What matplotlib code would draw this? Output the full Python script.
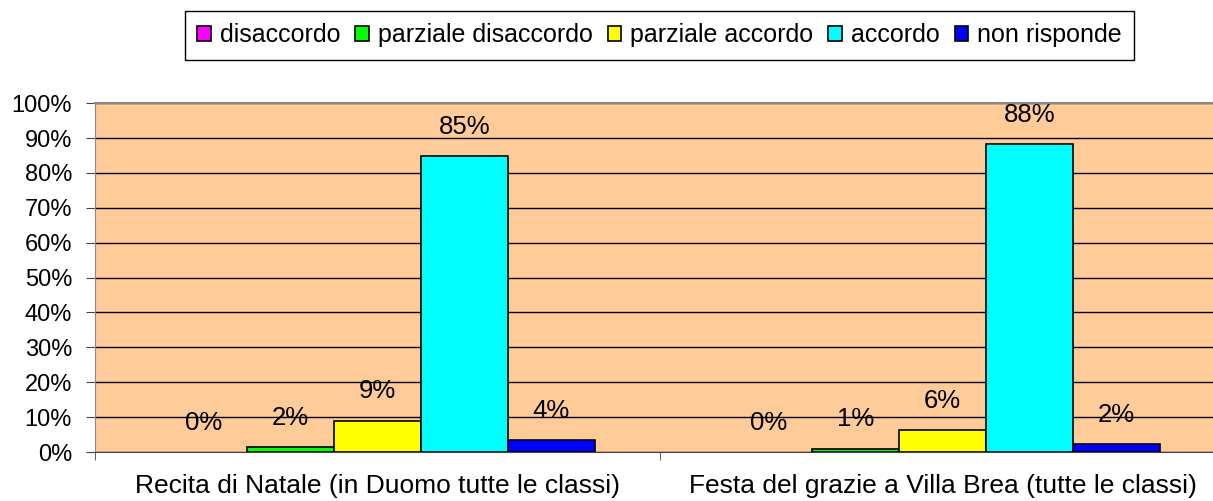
import matplotlib.pyplot as plt
import numpy as np

plt.rcParams['font.family'] = ['Liberation Sans', 'DejaVu Sans']

# dati
categorie = ['Recita di Natale (in Duomo tutte le classi)',
             'Festa del grazie a Villa Brea (tutte le classi)']
serie = ['disaccordo', 'parziale disaccordo', 'parziale accordo', 'accordo', 'non risponde']
colori = ['#FF00FF', '#00FF00', '#FFFF00', '#00FFFF', '#0000FF']
valori = [
    [0.0, 0.0],     # disaccordo
    [0.015, 0.01],  # parziale disaccordo
    [0.09, 0.062],  # parziale accordo
    [0.848, 0.883], # accordo
    [0.033, 0.023], # non risponde
]
etichette = [
    ['0%', '0%'],
    ['2%', '1%'],
    ['9%', '6%'],
    ['85%', '88%'],
    ['4%', '2%'],
]

fig = plt.figure(figsize=(12.13, 5.01), dpi=100)
ax = fig.add_axes([0.0783, 0.0978, 0.9316, 0.6962])
ax.set_facecolor('#FFCC99')

x = np.arange(len(categorie))
w = 1 / 6.5
for i, (nome, col, vals, lab) in enumerate(zip(serie, colori, valori, etichette)):
    pos = x + (i - 2) * w
    lw = [1.2 if v > 0 else 0 for v in vals]
    ax.bar(pos, vals, width=w, color=col, edgecolor='black', linewidth=lw,
           label=nome, zorder=3)
    for p, v, t in zip(pos, vals, lab):
        ax.annotate(t, (p, v), xytext=(0, 21), textcoords='offset points',
                    ha='center', va='center', fontsize=18.5, zorder=4)

ax.set_xlim(-0.5, 1.5)
ax.set_ylim(0, 1)
ax.set_yticks(np.arange(0, 1.01, 0.1))
ax.set_yticklabels([f'{int(round(v * 100))}%' for v in np.arange(0, 1.01, 0.1)], fontsize=17)
ax.yaxis.grid(True, color='black', linewidth=1.0, zorder=1)
ax.set_axisbelow(True)

ax.set_xticks(x)
ax.set_xticklabels(categorie, fontsize=19)
ax.set_xticks([-0.5, 0.5, 1.5], minor=True)
ax.tick_params(axis='x', which='major', length=0, pad=16)
ax.tick_params(axis='x', which='minor', length=6, color='#444444')
ax.tick_params(axis='y', length=6.5, color='#444444', pad=10)

for s in ['left', 'top', 'bottom', 'right']:
    ax.spines[s].set_color('#888888')
ax.spines['bottom'].set_color('#444444')
ax.spines['top'].set_linewidth(1.5)

leg = fig.legend(loc='center', bbox_to_anchor=(0.5437, 0.930), ncol=5, fontsize=18,
                 handlelength=0.55, handleheight=0.55, handletextpad=0.35,
                 columnspacing=0.6, borderpad=0.5, fancybox=False, shadow=False,
                 edgecolor='black', framealpha=1)
leg.get_frame().set_linewidth(1.0)
for h in leg.legend_handles:
    h.set_linewidth(1.2)
    h.set_edgecolor('black')

fig.savefig('out.png', dpi=100)
